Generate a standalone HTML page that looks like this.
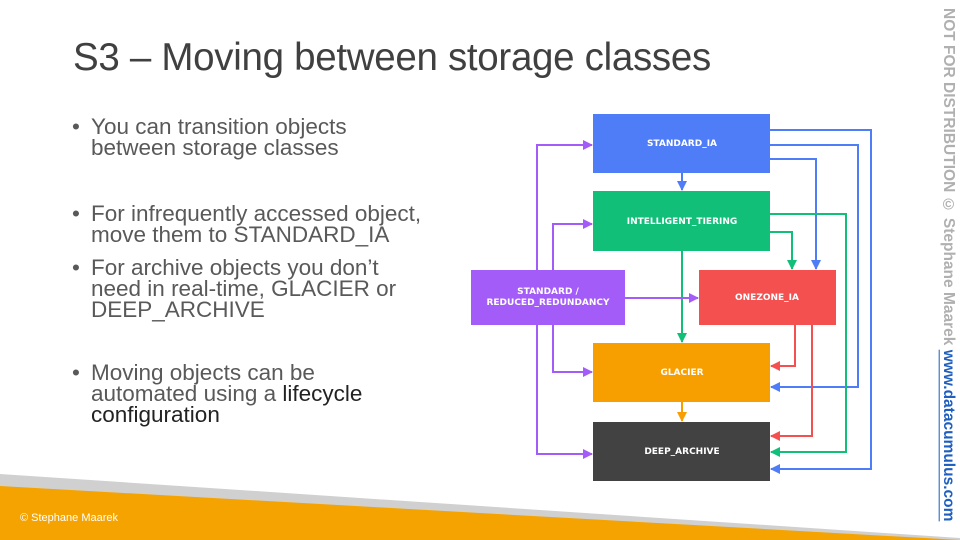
<!DOCTYPE html>
<html><head><meta charset="utf-8"><style>
body{margin:0;width:960px;height:540px;overflow:hidden;background:#fff;position:relative;font-family:"Liberation Sans",sans-serif}
.t{position:absolute;left:73px;top:36px;font-size:38.5px;color:#404040;font-weight:300;letter-spacing:-0.3px}
.b{position:absolute;left:72px;color:#595959;font-size:22.5px;line-height:21px;padding-left:19px;white-space:nowrap}
.b:before{content:"•";position:absolute;left:0}
.side{position:absolute;left:933px;top:8px;width:24px;height:520px;writing-mode:vertical-rl;font-size:15.5px;font-weight:bold;color:#b0b0b0;white-space:nowrap}
.side a{color:#1f5fbf;text-decoration:underline}
.c{position:absolute;left:20px;top:512px;color:#fff;font-size:11px}
</style></head><body>
<div class="t">S3 – Moving between storage classes</div>
<div class="b" style="top:116px">You can transition objects<br>between storage classes</div>
<div class="b" style="top:203px">For infrequently accessed object,<br>move them to STANDARD_IA</div>
<div class="b" style="top:257px">For archive objects you don’t<br>need in real-time, GLACIER or<br>DEEP_ARCHIVE</div>
<div class="b" style="top:362px">Moving objects can be<br>automated using a <span style="color:#222">lifecycle<br>configuration</span></div>
<div class="side">NOT FOR DISTRIBUTION © Stephane Maarek <a>www.datacumulus.com</a></div>
<svg width="960" height="540" style="position:absolute;left:0;top:0" font-family="DejaVu Sans, sans-serif" font-weight="bold" font-size="9" fill="#fff">
<polygon points="0,474 960,538 960,540 0,540" fill="#d0d0d0"/>
<polygon points="0,486 960,540 0,540" fill="#f5a300"/>
<defs>
<marker id="mb" viewBox="0 0 10 10" refX="9" refY="5" markerWidth="5" markerHeight="5" orient="auto"><path d="M0,0L10,5L0,10z" fill="#4f7cf7"/></marker>
<marker id="mg" viewBox="0 0 10 10" refX="9" refY="5" markerWidth="5" markerHeight="5" orient="auto"><path d="M0,0L10,5L0,10z" fill="#11bf79"/></marker>
<marker id="mp" viewBox="0 0 10 10" refX="9" refY="5" markerWidth="5" markerHeight="5" orient="auto"><path d="M0,0L10,5L0,10z" fill="#a35cf7"/></marker>
<marker id="mr" viewBox="0 0 10 10" refX="9" refY="5" markerWidth="5" markerHeight="5" orient="auto"><path d="M0,0L10,5L0,10z" fill="#f45050"/></marker>
<marker id="mo" viewBox="0 0 10 10" refX="9" refY="5" markerWidth="5" markerHeight="5" orient="auto"><path d="M0,0L10,5L0,10z" fill="#f79e00"/></marker>
</defs>
<g fill="none" stroke-width="2">
<g stroke="#4f7cf7" marker-end="url(#mb)">
<polyline points="770,130 871,130 871,469 771,469"/>
<polyline points="770,145 858,145 858,387 771,387"/>
<polyline points="770,159 816,159 816,269"/>
<polyline points="682,173 682,190"/>
</g>
<g stroke="#11bf79" marker-end="url(#mg)">
<polyline points="770,214 846,214 846,452 771,452"/>
<polyline points="770,232 792,232 792,269"/>
<polyline points="682,251 682,342"/>
</g>
<g stroke="#a35cf7" marker-end="url(#mp)">
<polyline points="537,270 537,145 592,145"/>
<polyline points="537,325 537,454 592,454"/>
<polyline points="553,270 553,224 592,224"/>
<polyline points="553,325 553,372 592,372"/>
<polyline points="625,298 698,298"/>
</g>
<g stroke="#f45050" marker-end="url(#mr)">
<polyline points="795,325 795,366 771,366"/>
<polyline points="812,325 812,436 771,436"/>
</g>
<polyline stroke="#f79e00" marker-end="url(#mo)" points="682,402 682,421"/>
</g>
<rect x="593" y="114" width="177" height="59" fill="#4f7cf7"/>
<rect x="593" y="191" width="177" height="60" fill="#11bf79"/>
<rect x="471" y="270" width="154" height="55" fill="#a35cf7"/>
<rect x="699" y="270" width="137" height="55" fill="#f45050"/>
<rect x="593" y="343" width="177" height="59" fill="#f79e00"/>
<rect x="593" y="422" width="177" height="59" fill="#424242"/>
<g text-anchor="middle">
<text x="682" y="146">STANDARD_IA</text>
<text x="682" y="224">INTELLIGENT_TIERING</text>
<text x="548" y="294">STANDARD /</text>
<text x="548" y="305">REDUCED_REDUNDANCY</text>
<text x="767" y="300">ONEZONE_IA</text>
<text x="682" y="375">GLACIER</text>
<text x="682" y="454">DEEP_ARCHIVE</text>
</g>
</svg>
<div class="c">© Stephane Maarek</div>
</body></html>
